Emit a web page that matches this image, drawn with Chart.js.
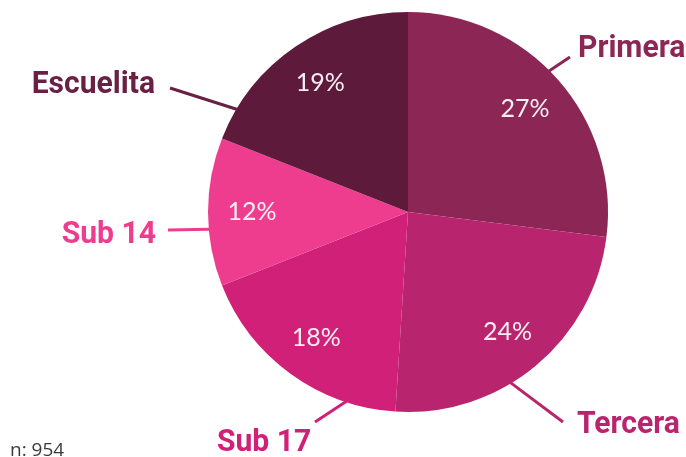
<!DOCTYPE html>
<html>
<head>
<meta charset="utf-8">
<script src="https://cdn.jsdelivr.net/npm/chart.js@4/dist/chart.umd.min.js"></script>
<style>
  html, body { margin: 0; padding: 0; background: #fff; }
  #wrap { width: 686px; height: 457px; }
</style>
</head>
<body>
<div id="wrap"><canvas id="pie" width="686" height="457"></canvas></div>
<script>
// data
const categories = ['Primera', 'Tercera', 'Sub 17', 'Sub 14', 'Escuelita']
const shares = [27, 24, 18, 12, 19]
const sliceColors = ['#8c2655', '#b9246e', '#d02077', '#ee3d8f', '#5e1a3b']
const textColors = ['#8c2655', '#b9246e', '#d02077', '#ee3d8f', '#6a1f45']
const sampleNote = 'n: 954'

// where each outside label sits (angle on the rim in degrees clockwise from top)
const calloutLayout = [
    { rim: 45, end: [570, 57], text: [578, 57], align: 'left' },
    { rim: 149, end: [563, 422], text: [577, 433], align: 'left' },
    { rim: 198, end: [315, 422], text: [217, 451], align: 'left' },
    { rim: 265, end: [168, 230], text: [156, 243], align: 'right' },
    { rim: 301, end: [170, 88], text: [155, 93], align: 'right' }
]

const LABEL_FONT = "bold 32px Roboto, 'DejaVu Sans Condensed', sans-serif"
const PCT_FONT = "25px Lato, 'Open Sans', sans-serif"
// the original uses a condensed face: squeeze the labels a little
const LABEL_SQUEEZE = 0.94

const calloutPlugin = {
    id: 'callouts',
    afterDatasetsDraw(chart) {
        const { ctx } = chart
        const arcs = chart.getDatasetMeta(0).data
        ctx.save()
        arcs.forEach((arc, i) => {
            const { x, y, outerRadius, startAngle, endAngle } = arc
            // percentage inside the slice
            const mid = (startAngle + endAngle) / 2
            const r = outerRadius * 0.78
            ctx.font = PCT_FONT
            ctx.fillStyle = '#f6eef2'
            ctx.textAlign = 'center'
            ctx.textBaseline = 'middle'
            ctx.fillText(shares[i] + '%', x + Math.cos(mid) * r, y + Math.sin(mid) * r)

            // leader line + category name
            const lay = calloutLayout[i]
            const a = (lay.rim - 90) * Math.PI / 180
            ctx.strokeStyle = textColors[i]
            ctx.lineWidth = 3
            ctx.beginPath()
            ctx.moveTo(x + Math.cos(a) * (outerRadius - 1), y + Math.sin(a) * (outerRadius - 1))
            ctx.lineTo(lay.end[0], lay.end[1])
            ctx.stroke()

            ctx.save()
            ctx.font = LABEL_FONT
            ctx.fillStyle = textColors[i]
            ctx.textAlign = lay.align
            ctx.textBaseline = 'alphabetic'
            ctx.translate(lay.text[0], lay.text[1])
            ctx.scale(LABEL_SQUEEZE, 1)
            ctx.fillText(categories[i], 0, 0)
            ctx.restore()
        })
        // sample size note
        ctx.font = "19px 'Open Sans', sans-serif"
        ctx.fillStyle = '#3a3a3a'
        ctx.textAlign = 'left'
        ctx.textBaseline = 'alphabetic'
        ctx.fillText(sampleNote, 10, 456)
        ctx.restore()
    }
}

new Chart(document.getElementById('pie'), {
    type: 'pie',
    data: {
        labels: categories,
        datasets: [
            {
                data: shares,
                backgroundColor: sliceColors,
                borderWidth: 0
            }
        ]
    },
    options: {
        responsive: false,
        animation: false,
        layout: {
            padding: { left: 208, right: 78, top: 12, bottom: 45 }
        },
        plugins: {
            legend: { display: false },
            tooltip: { enabled: false }
        }
    },
    plugins: [calloutPlugin]
})
</script>
</body>
</html>
